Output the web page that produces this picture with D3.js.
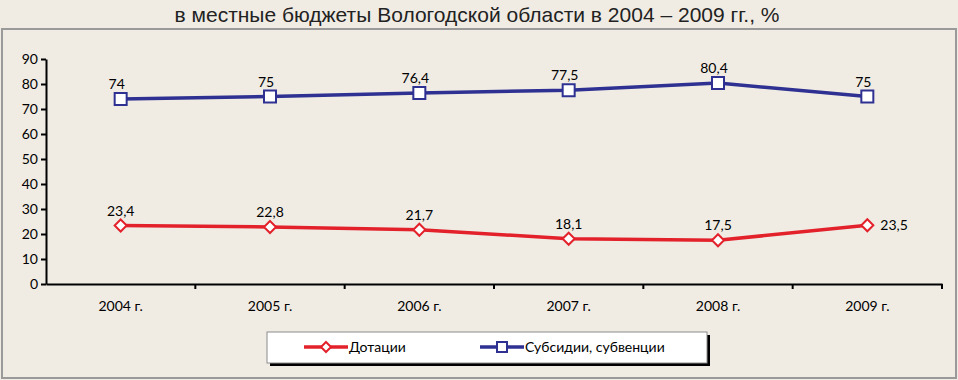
<!DOCTYPE html>
<html lang="ru">
<head>
    <meta charset="UTF-8">
    <title>Дотации и субсидии</title>
    <script src="https://d3js.org/d3.v7.min.js"></script>
    <style>
        * { margin: 0; padding: 0; box-sizing: border-box; }
        body { background: #f0ece4; width: 958px; height: 380px; overflow: hidden; }
        svg { display: block; }
        .axis path, .axis line { stroke: #000; stroke-width: 2; }
        .axis text { font-family: Lato, "Open Sans", sans-serif; font-size: 14px; fill: #000; }
        .lbl { font-family: Lato, "Open Sans", sans-serif; font-size: 14px; fill: #000; }
    </style>
</head>
<body>
<div id="chart"></div>
<script>
    const years = ["2004 г.", "2005 г.", "2006 г.", "2007 г.", "2008 г.", "2009 г."];
    const dotacii = [23.4, 22.8, 21.7, 18.1, 17.5, 23.5];
    const subsidii = [74, 75, 76.4, 77.5, 80.4, 75];
    const yTicks = [0, 10, 20, 30, 40, 50, 60, 70, 80, 90];
    const seriesNames = ["Дотации", "Субсидии, субвенции"];

    const W = 958, H = 380;
    const svg = d3.select("#chart").append("svg").attr("width", W).attr("height", H);

    // заголовок (верх обрезан в оригинале)
    svg.append("text")
        .attr("x", 477).attr("y", 22)
        .attr("text-anchor", "middle")
        .attr("font-family", "'Liberation Sans Narrow', 'Liberation Sans', Arial, sans-serif")
        .attr("font-size", 21)
        .attr("fill", "#222")
        .attr("textLength", 605)
        .attr("lengthAdjust", "spacingAndGlyphs")
        .text("в местные бюджеты Вологодской области в 2004 – 2009 гг., %");

    // рамка
    svg.append("rect")
        .attr("x", 2).attr("y", 29).attr("width", 954).attr("height", 349)
        .attr("fill", "#f0ece4").attr("stroke", "#9a9a9a").attr("stroke-width", 2);

    const x = d3.scaleBand().domain(years).range([46, 942]);
    const y = d3.scaleLinear().domain([0, 90]).range([284, 59]);
    const cx = d => x(d) + x.bandwidth() / 2;

    svg.append("g")
        .attr("class", "axis")
        .attr("transform", "translate(46,0)")
        .call(d3.axisLeft(y).tickValues(yTicks).tickSize(5).tickPadding(3).tickSizeOuter(0));

    const xg = svg.append("g")
        .attr("class", "axis")
        .attr("transform", "translate(0,284)")
        .call(d3.axisBottom(x).tickSize(0).tickPadding(17).tickSizeOuter(0));
    xg.selectAll(".bnd")
        .data(years)
        .enter().append("line")
        .attr("x1", d => x(d) + x.bandwidth())
        .attr("x2", d => x(d) + x.bandwidth())
        .attr("y1", 0).attr("y2", 5);

    const fmt = v => String(v).replace(".", ",");
    const line = d3.line().x((d, i) => cx(years[i])).y(d => y(d));

    const red = "#e3212b", blue = "#2e3192";

    function diamond(g, px, py, r) {
        g.append("path")
            .attr("d", `M${px},${py - r}L${px + r},${py}L${px},${py + r}L${px - r},${py}Z`)
            .attr("fill", "#fff").attr("stroke", red).attr("stroke-width", 2);
    }
    function square(g, px, py, r) {
        g.append("rect")
            .attr("x", px - r).attr("y", py - r).attr("width", 2 * r).attr("height", 2 * r)
            .attr("fill", "#fff").attr("stroke", blue).attr("stroke-width", 2);
    }

    svg.append("path").datum(subsidii).attr("d", line)
        .attr("fill", "none").attr("stroke", blue).attr("stroke-width", 3.5);
    svg.append("path").datum(dotacii).attr("d", line)
        .attr("fill", "none").attr("stroke", red).attr("stroke-width", 3.5);

    const gm = svg.append("g");
    subsidii.forEach((v, i) => {
        square(gm, cx(years[i]), y(v), 6);
        gm.append("text").attr("class", "lbl")
            .attr("x", cx(years[i]) - 4).attr("y", y(v) - 10)
            .attr("text-anchor", "middle").text(fmt(v));
    });
    dotacii.forEach((v, i) => {
        diamond(gm, cx(years[i]), y(v), 6);
        const last = i === dotacii.length - 1;
        gm.append("text").attr("class", "lbl")
            .attr("x", last ? cx(years[i]) + 13 : cx(years[i]))
            .attr("y", last ? y(v) + 5 : y(v) - 10)
            .attr("text-anchor", last ? "start" : "middle").text(fmt(v));
    });

    // легенда
    const lg = svg.append("g");
    lg.append("rect").attr("x", 270).attr("y", 335).attr("width", 440).attr("height", 31).attr("fill", "#000");
    lg.append("rect").attr("x", 267).attr("y", 332).attr("width", 440).attr("height", 31)
        .attr("fill", "#fff").attr("stroke", "#8c8c8c").attr("stroke-width", 1);
    const items = [
        { name: seriesNames[0], color: red, x0: 304, mk: "d" },
        { name: seriesNames[1], color: blue, x0: 480, mk: "s" }
    ];
    items.forEach(it => {
        lg.append("line").attr("x1", it.x0).attr("x2", it.x0 + 44)
            .attr("y1", 347).attr("y2", 347).attr("stroke", it.color).attr("stroke-width", 3.5);
        if (it.mk === "d") diamond(lg, it.x0 + 22, 347, 5);
        else square(lg, it.x0 + 22, 347, 5);
        lg.append("text").attr("class", "lbl").attr("x", it.x0 + 45).attr("y", 352)
            .attr("font-size", 14.5).text(it.name);
    });
</script>
</body>
</html>
